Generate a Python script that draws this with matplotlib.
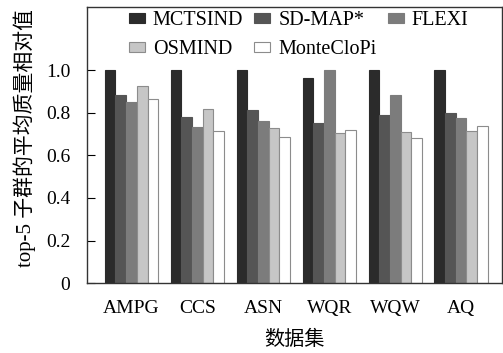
import numpy as np
import matplotlib
matplotlib.use('Agg')
import matplotlib.pyplot as plt

plt.rcParams['font.family'] = ['Liberation Serif', 'Noto Sans CJK SC']

# ==================== 数据 ====================
datasets = ['AMPG', 'CCS', 'ASN', 'WQR', 'WQW', 'AQ']
methods = ['MCTSIND', 'SD-MAP*', 'FLEXI', 'OSMIND', 'MonteCloPi']

mctsind    = [1.00, 1.00, 1.00, 0.961, 1.00, 1.00]
sdmap      = [0.885, 0.781, 0.812, 0.753, 0.789, 0.800]
flexi      = [0.848, 0.734, 0.762, 1.00, 0.884, 0.773]
osmind     = [0.926, 0.817, 0.726, 0.706, 0.709, 0.715]
montecloPi = [0.864, 0.715, 0.684, 0.720, 0.682, 0.737]

series = [mctsind, sdmap, flexi, osmind, montecloPi]
colors = ['#2b2b2b', '#555555', '#7c7c7c', '#c6c6c6', '#ffffff']
edges = ['#2b2b2b', '#555555', '#7c7c7c', '#8c8c8c', '#8c8c8c']

# ==================== 绘图 ====================
fig = plt.figure(figsize=(5.03, 3.53), dpi=100)
ax = fig.add_axes([0.173, 0.198, 0.825, 0.782])

x = np.arange(len(datasets))
w = 0.162
bars = []
for i, (vals, c, ec, name) in enumerate(zip(series, colors, edges, methods)):
    b = ax.bar(x + (i - 2) * w, vals, width=w, color=c, edgecolor=ec,
               linewidth=0.8, label=name)
    bars.append(b)

ax.set_xlim(-0.675, 5.62)
ax.set_ylim(0, 1.296)
ax.set_yticks([0, 0.2, 0.4, 0.6, 0.8, 1.0])
ax.set_yticklabels(['0', '0.2', '0.4', '0.6', '0.8', '1.0'])
ax.set_xticks(x)
ax.set_xticklabels(datasets)
ax.tick_params(axis='y', direction='in', length=6, pad=12, labelsize=14)
ax.tick_params(axis='x', length=0, pad=12, labelsize=14)
for s in ax.spines.values():
    s.set_linewidth(1.0)
    s.set_color('#333333')

ax.set_ylabel('top-5 子群的平均质量相对值', fontsize=15)
ax.yaxis.set_label_coords(-0.149, 0.525)
ax.set_xlabel('数据集', fontsize=14.5)
ax.xaxis.set_label_coords(0.5, -0.207)
ax.xaxis.label.set_va('center')
ax.yaxis.label.set_va('center')

# 图例按行排列
order = [0, 3, 1, 4, 2]
ax.legend([bars[k] for k in order], [methods[k] for k in order], ncol=3,
          loc='upper center', bbox_to_anchor=(0.51, 1.0), frameon=False,
          fontsize=14.5, handlelength=0.8, handleheight=0.4,
          handletextpad=0.4, columnspacing=0.55, labelspacing=0.5,
          borderpad=0.2, borderaxespad=0.0)

fig.savefig('out.png', dpi=100)
